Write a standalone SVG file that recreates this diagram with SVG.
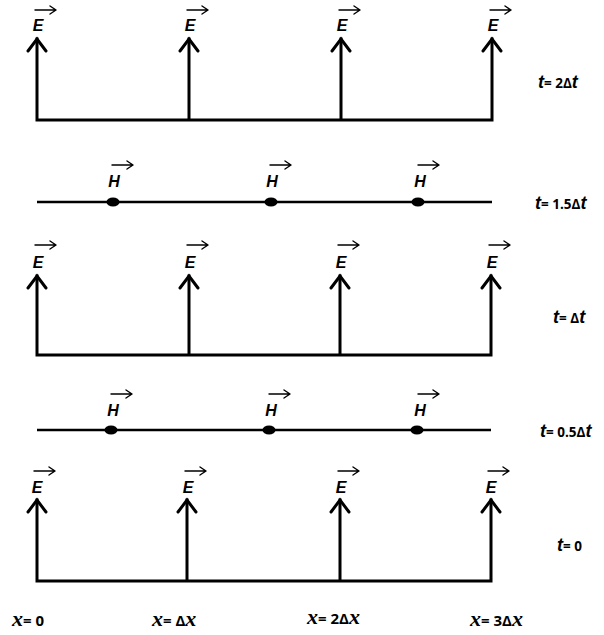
<svg xmlns="http://www.w3.org/2000/svg" width="604" height="635" viewBox="0 0 604 635">
<style>
.ax{fill:none;stroke:#000;stroke-width:3;stroke-linecap:square;stroke-linejoin:miter}
.ah{fill:none;stroke:#000;stroke-width:3;stroke-linecap:round;stroke-linejoin:miter}
.hl{fill:none;stroke:#000;stroke-width:2.5}
.vec{fill:none;stroke:#000;stroke-width:1.4;stroke-linecap:round;stroke-linejoin:round}
.lbl{font-family:"Liberation Sans","Open Sans",sans-serif;font-weight:bold;font-style:italic;font-size:16px;fill:#000}
.t{font-family:"Open Sans","Liberation Sans",sans-serif;font-weight:bold;font-size:13.5px;fill:#000}
.tx{font-family:"Open Sans","Liberation Sans",sans-serif;font-weight:bold;font-size:15px;fill:#000}
.tv{font-family:"Liberation Sans",sans-serif;font-weight:bold;font-style:italic;font-size:18px}
.xv{font-family:"Liberation Serif",serif;font-weight:bold;font-style:italic;font-size:22px}
.dot{fill:#000}
</style>
<defs>
<g id="vecE"><path class="vec" d="M0 0H21M15 -4L21 0L15 4"/></g>
</defs>

<!-- t = 2Δt -->
<g id="row-t2">
<path class="ax" d="M37 120H492M37 120V39M189 120V39M341 120V39M492 120V39"/>
<path class="ah" d="M28 51L37 39L46 51M180 51L189 39L198 51M332 51L341 39L350 51M483 51L492 39L501 51"/>
</g>
<g id="labels-t2">
<text class="lbl" x="38" y="31" text-anchor="middle">E</text><use href="#vecE" x="35" y="10"/>
<text class="lbl" x="190" y="31" text-anchor="middle">E</text><use href="#vecE" x="187" y="10"/>
<text class="lbl" x="342" y="31" text-anchor="middle">E</text><use href="#vecE" x="339" y="10"/>
<text class="lbl" x="493" y="31" text-anchor="middle">E</text><use href="#vecE" x="490" y="10"/>
</g>

<!-- t = 1.5Δt -->
<g id="row-t15">
<path class="hl" d="M37 202H492"/>
<ellipse class="dot" cx="113" cy="202" rx="6.5" ry="4.5"/>
<ellipse class="dot" cx="271" cy="202" rx="6.5" ry="4.5"/>
<ellipse class="dot" cx="418" cy="202" rx="6.5" ry="4.5"/>
<text class="lbl" x="114" y="187" text-anchor="middle">H</text><use href="#vecE" x="112" y="165"/>
<text class="lbl" x="272" y="187" text-anchor="middle">H</text><use href="#vecE" x="270" y="165"/>
<text class="lbl" x="420" y="187" text-anchor="middle">H</text><use href="#vecE" x="418" y="165"/>
</g>

<!-- t = Δt -->
<g id="row-t1">
<path class="ax" d="M37 355H491M37 355V276M189 355V276M340 355V276M491 355V276"/>
<path class="ah" d="M28 288L37 276L46 288M180 288L189 276L198 288M331 288L340 276L349 288M482 288L491 276L500 288"/>
<text class="lbl" x="38" y="268" text-anchor="middle">E</text><use href="#vecE" x="35" y="245"/>
<text class="lbl" x="190" y="268" text-anchor="middle">E</text><use href="#vecE" x="187" y="245"/>
<text class="lbl" x="341" y="268" text-anchor="middle">E</text><use href="#vecE" x="338" y="245"/>
<text class="lbl" x="492" y="268" text-anchor="middle">E</text><use href="#vecE" x="489" y="245"/>
</g>

<!-- t = 0.5Δt -->
<g id="row-t05">
<path class="hl" d="M37 430H491"/>
<ellipse class="dot" cx="111" cy="430" rx="6.5" ry="4.5"/>
<ellipse class="dot" cx="269" cy="430" rx="6.5" ry="4.5"/>
<ellipse class="dot" cx="417" cy="430" rx="6.5" ry="4.5"/>
<text class="lbl" x="113" y="416" text-anchor="middle">H</text><use href="#vecE" x="111" y="394"/>
<text class="lbl" x="271" y="416" text-anchor="middle">H</text><use href="#vecE" x="269" y="394"/>
<text class="lbl" x="420" y="416" text-anchor="middle">H</text><use href="#vecE" x="418" y="394"/>
</g>

<!-- t = 0 -->
<g id="row-t0">
<path class="ax" d="M37 581H491M37 581V500M187 581V500M340 581V500M491 581V500"/>
<path class="ah" d="M28 512L37 500L46 512M178 512L187 500L196 512M331 512L340 500L349 512M482 512L491 500L500 512"/>
<text class="lbl" x="37" y="493" text-anchor="middle">E</text><use href="#vecE" x="34" y="471"/>
<text class="lbl" x="188" y="493" text-anchor="middle">E</text><use href="#vecE" x="185" y="471"/>
<text class="lbl" x="341" y="493" text-anchor="middle">E</text><use href="#vecE" x="338" y="471"/>
<text class="lbl" x="491" y="493" text-anchor="middle">E</text><use href="#vecE" x="488" y="471"/>
</g>

<!-- time labels -->
<g id="time-labels">
<text class="t" x="538" y="88"><tspan class="tv">t</tspan>= 2Δ<tspan class="tv">t</tspan></text>
<text class="t" x="535" y="209"><tspan class="tv">t</tspan>= 1.5Δ<tspan class="tv">t</tspan></text>
<text class="t" x="553" y="323"><tspan class="tv">t</tspan>= Δ<tspan class="tv">t</tspan></text>
<text class="t" x="540" y="437"><tspan class="tv">t</tspan>= 0.5Δ<tspan class="tv">t</tspan></text>
<text class="t" x="557" y="551"><tspan class="tv">t</tspan>= 0</text>
</g>

<!-- position labels -->
<g id="x-labels">
<text class="tx" x="12" y="626"><tspan class="xv">x</tspan>= 0</text>
<text class="tx" x="152" y="626"><tspan class="xv">x</tspan>= Δ<tspan class="xv">x</tspan></text>
<text class="tx" x="307" y="624"><tspan class="xv">x</tspan>= 2Δ<tspan class="xv">x</tspan></text>
<text class="tx" x="470" y="626"><tspan class="xv">x</tspan>= 3Δ<tspan class="xv">x</tspan></text>
</g>
</svg>
